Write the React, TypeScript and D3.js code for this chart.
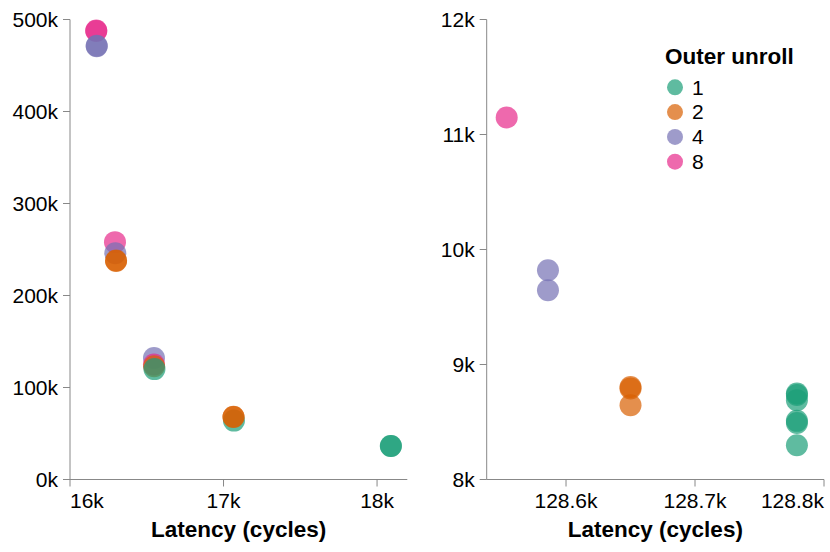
import React, { useEffect, useRef } from 'react';
import * as d3 from 'd3';

// Outer unroll categories and their colours (Dark2)
const unrolls = [1, 2, 4, 8];
const unrollColors = ['#1b9e77', '#d95f02', '#7570b3', '#e7298a'];

// Left panel: latency vs value
const leftLatency = [16171, 16171, 16174, 16174, 16293, 16295, 16300, 16300, 16547, 16547, 16548, 16550, 17068, 17065, 17065, 18090, 18090];
const leftValue = [488000, 487500, 471000, 471500, 258000, 246000, 238000, 237500, 132000, 125000, 123000, 120000, 64000, 68000, 68300, 36400, 36400];
const leftUnroll = [8, 8, 4, 4, 8, 4, 2, 2, 4, 8, 2, 1, 1, 2, 2, 1, 1];
const leftXTicks = [16000, 17000, 18000];
const leftYTicks = [0, 100000, 200000, 300000, 400000, 500000];

// Right panel
const rightLatency = [128554, 128586, 128586, 128650, 128650, 128650, 128779, 128779, 128779, 128779, 128779, 128779];
const rightValue = [11148, 9820, 9646, 8805, 8791, 8646, 8748, 8735, 8690, 8510, 8492, 8298];
const rightUnroll = [8, 4, 4, 2, 2, 2, 1, 1, 1, 1, 1, 1];
const rightXTicks = [128600, 128700, 128800];
const rightYTicks = [8000, 9000, 10000, 11000, 12000];

const FONT = '"Liberation Sans", Arial, Helvetica, sans-serif';
const fmtK = (d: number) => `${+(d / 1000).toFixed(1)}k`;

const App = () => {
  const svgRef = useRef<SVGSVGElement>(null);

  useEffect(() => {
    const svg = d3.select(svgRef.current);
    svg.selectAll('*').remove();

    const color = d3.scaleOrdinal<number, string>().domain(unrolls).range(unrollColors);
    const yRange: [number, number] = [479.5, 19.5];

    const panels = [
      {
        xs: leftLatency, ys: leftValue, us: leftUnroll,
        x: d3.scaleLinear().domain([16000, 18197]).range([70, 407.3]),
        y: d3.scaleLinear().domain([0, 500000]).range(yRange),
        xTicks: leftXTicks, yTicks: leftYTicks,
      },
      {
        xs: rightLatency, ys: rightValue, us: rightUnroll,
        x: d3.scaleLinear().domain([128538.5, 128800]).range([486.7, 824]),
        y: d3.scaleLinear().domain([8000, 12000]).range(yRange),
        xTicks: rightXTicks, yTicks: rightYTicks,
      },
    ];

    panels.forEach(p => {
      const g = svg.append('g');
      const [x0, x1] = p.x.range();
      const yb = yRange[0];

      // points
      g.selectAll('circle')
        .data(p.xs.map((v, i) => ({ lat: v, val: p.ys[i], u: p.us[i] })))
        .enter().append('circle')
        .attr('cx', d => p.x(d.lat))
        .attr('cy', d => p.y(d.val))
        .attr('r', 11)
        .attr('fill', d => color(d.u))
        .attr('opacity', 0.7);

      // y axis
      g.append('line')
        .attr('x1', x0).attr('x2', x0).attr('y1', yRange[1]).attr('y2', yb)
        .attr('stroke', '#888').attr('stroke-width', 1);
      p.yTicks.forEach(t => {
        const yy = p.y(t);
        g.append('line')
          .attr('x1', x0 - 7).attr('x2', x0).attr('y1', yy).attr('y2', yy)
          .attr('stroke', '#888');
        g.append('text')
          .attr('x', x0 - 12).attr('y', yy)
          .attr('dy', '0.35em')
          .attr('text-anchor', 'end')
          .attr('font-family', FONT).attr('font-size', 21)
          .text(fmtK(t));
      });

      // x axis
      g.append('line')
        .attr('x1', x0).attr('x2', x1).attr('y1', yb).attr('y2', yb)
        .attr('stroke', '#888').attr('stroke-width', 1);
      p.xTicks.forEach(t => {
        const xx = p.x(t);
        g.append('line')
          .attr('x1', xx).attr('x2', xx).attr('y1', yb).attr('y2', yb + 7)
          .attr('stroke', '#888');
        // first/last labels flush with axis ends
        let anchor = 'middle';
        if (Math.abs(xx - x0) < 1) anchor = 'start';
        if (Math.abs(xx - x1) < 1) anchor = 'end';
        g.append('text')
          .attr('x', xx).attr('y', 508)
          .attr('text-anchor', anchor)
          .attr('font-family', FONT).attr('font-size', 21)
          .text(fmtK(t));
      });

      g.append('text')
        .attr('x', (x0 + x1) / 2).attr('y', 537)
        .attr('text-anchor', 'middle')
        .attr('font-family', FONT).attr('font-size', 22.5).attr('font-weight', 'bold')
        .text('Latency (cycles)');
    });

    // legend
    const legend = svg.append('g').attr('transform', 'translate(665, 0)');
    legend.append('text')
      .attr('x', 0).attr('y', 64)
      .attr('font-family', FONT).attr('font-size', 22.5).attr('font-weight', 'bold')
      .text('Outer unroll');
    const items = legend.selectAll('g.item')
      .data(unrolls)
      .enter().append('g')
      .attr('class', 'item')
      .attr('transform', (d, i) => `translate(0, ${87.3 + i * 24.8})`);
    items.append('circle')
      .attr('cx', 10).attr('cy', 0).attr('r', 8)
      .attr('fill', d => color(d)).attr('opacity', 0.7);
    items.append('text')
      .attr('x', 27).attr('y', 0).attr('dy', '0.35em')
      .attr('font-family', FONT).attr('font-size', 21)
      .text(d => d);
  }, []);

  return (
    <svg ref={svgRef} width={830} height={552}
      style={{ position: 'absolute', left: 0, top: 0, background: '#fff' }} />
  );
};

export default App;
